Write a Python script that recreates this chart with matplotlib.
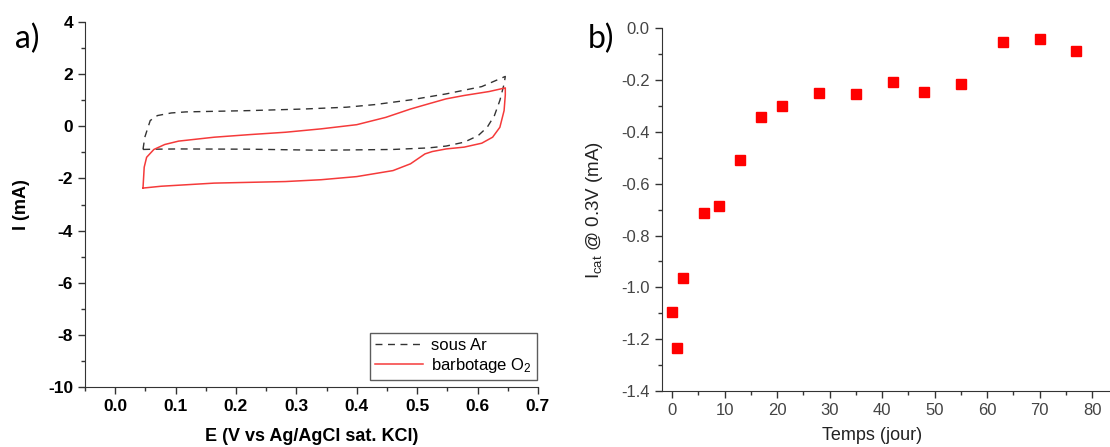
import matplotlib
matplotlib.use("Agg")
import matplotlib.pyplot as plt
from matplotlib.ticker import MultipleLocator

plt.rcParams['font.family'] = ['Liberation Sans', 'DejaVu Sans']
plt.rcParams['axes.unicode_minus'] = False

# a) voltammétrie cyclique - sous Ar
ar_E = [0.046, 0.049, 0.058, 0.070, 0.093, 0.117, 0.223, 0.312, 0.383, 0.430,
        0.489, 0.548, 0.607, 0.646, 0.644, 0.637, 0.628, 0.616, 0.601, 0.578,
        0.548, 0.519, 0.460, 0.341, 0.223, 0.105, 0.064, 0.046]
ar_I = [-0.89, -0.42, 0.22, 0.41, 0.51, 0.55, 0.60, 0.66, 0.73, 0.83,
        1.01, 1.24, 1.52, 1.91, 1.62, 0.99, 0.41, -0.04, -0.36, -0.61,
        -0.76, -0.83, -0.89, -0.92, -0.88, -0.87, -0.88, -0.89]

# a) voltammétrie cyclique - barbotage O2
o2_E = [0.046, 0.048, 0.052, 0.064, 0.082, 0.105, 0.164, 0.223, 0.282, 0.341,
        0.400, 0.448, 0.489, 0.519, 0.548, 0.578, 0.619, 0.646, 0.646, 0.644,
        0.637, 0.625, 0.607, 0.578, 0.548, 0.525, 0.513, 0.489, 0.460, 0.400,
        0.341, 0.282, 0.164, 0.076, 0.046]
o2_I = [-2.37, -1.57, -1.19, -0.89, -0.70, -0.57, -0.42, -0.32, -0.23, -0.10,
        0.06, 0.34, 0.66, 0.86, 1.05, 1.18, 1.33, 1.47, 1.20, 0.60,
        -0.04, -0.42, -0.65, -0.80, -0.87, -0.97, -1.06, -1.44, -1.70, -1.93,
        -2.05, -2.12, -2.18, -2.30, -2.37]

# b) courant catalytique vs temps
jours = [0, 1, 2, 6, 9, 13, 17, 21, 28, 35, 42, 48, 55, 63, 70, 77]
icat = [-1.096, -1.235, -0.965, -0.714, -0.686, -0.508, -0.342, -0.299,
        -0.251, -0.254, -0.206, -0.246, -0.214, -0.053, -0.040, -0.087]

fig = plt.figure(figsize=(11.1, 4.47), dpi=100)

# ---- panel a
ax1 = fig.add_axes([0.0766, 0.134, 0.408, 0.817])
ax1.plot(ar_E, ar_I, color='#333333', lw=1.0, dashes=(5, 4), label='sous Ar')
ax1.plot(o2_E, o2_I, color='#f53a3a', lw=1.1, label='barbotage O$\\mathregular{_2}$')
ax1.set_xlim(-0.05, 0.7)
ax1.set_ylim(-10, 4)
ax1.xaxis.set_major_locator(MultipleLocator(0.1))
ax1.xaxis.set_minor_locator(MultipleLocator(0.05))
ax1.yaxis.set_major_locator(MultipleLocator(2))
ax1.yaxis.set_minor_locator(MultipleLocator(1))
ax1.spines['top'].set_visible(False)
ax1.spines['right'].set_visible(False)
for s in ['left', 'bottom']:
    ax1.spines[s].set_color('#333333')
ax1.tick_params(which='major', direction='out', length=5, width=1, colors='#333333',
                labelcolor='black', labelsize=12.5)
ax1.tick_params(which='minor', direction='out', length=3, width=1, colors='#333333')
for lab in ax1.get_xticklabels() + ax1.get_yticklabels():
    lab.set_fontweight('bold')
ax1.set_xlabel('E (V vs Ag/AgCl sat. KCl)', fontsize=13, fontweight='bold')
ax1.set_ylabel('I (mA)', fontsize=13, fontweight='bold')
ax1.xaxis.set_label_coords(0.5, -0.112)
ax1.yaxis.set_label_coords(-0.121, 0.5)
leg = ax1.legend(loc='lower right', bbox_to_anchor=(0.998, 0.02), borderaxespad=0,
                 fontsize=12, fancybox=False, edgecolor='#333333', handlelength=2.9,
                 labelspacing=0.15, borderpad=0.3, handletextpad=0.5)
leg.get_frame().set_linewidth(1.0)
fig.text(0.025, 0.912, 'a)', fontsize=23, family='Lato', ha='center', va='center')

# ---- panel b
ax2 = fig.add_axes([0.596, 0.125, 0.404, 0.812])
ax2.plot(jours, icat, linestyle='none', marker='s', ms=6.5, color='#ff0000')
ax2.set_xlim(-2, 83.4)
ax2.set_ylim(-1.4, 0.0)
ax2.xaxis.set_major_locator(MultipleLocator(10))
ax2.xaxis.set_minor_locator(MultipleLocator(5))
ax2.yaxis.set_major_locator(MultipleLocator(0.2))
ax2.yaxis.set_minor_locator(MultipleLocator(0.1))
ax2.yaxis.set_major_formatter(plt.FuncFormatter(lambda v, p: '%.1f' % v))
ax2.spines['top'].set_visible(False)
ax2.spines['right'].set_visible(False)
for s in ['left', 'bottom']:
    ax2.spines[s].set_color('#333333')
ax2.tick_params(which='major', direction='out', length=5, width=1, colors='#333333',
                labelcolor='#444444', labelsize=12)
ax2.tick_params(which='minor', direction='out', length=3, width=1, colors='#333333')
ax2.set_xlabel('Temps (jour)', fontsize=13, color='#222222')
ax2.set_ylabel('I$\\mathregular{_{cat}}$ @ 0.3V (mA)', fontsize=13.5, color='#222222')
ax2.xaxis.set_label_coords(0.47, -0.1)
ax2.yaxis.set_label_coords(-0.127, 0.5)
fig.text(0.541, 0.912, 'b)', fontsize=23, family='Lato', ha='center', va='center')

fig.savefig('out.png', dpi=100)
